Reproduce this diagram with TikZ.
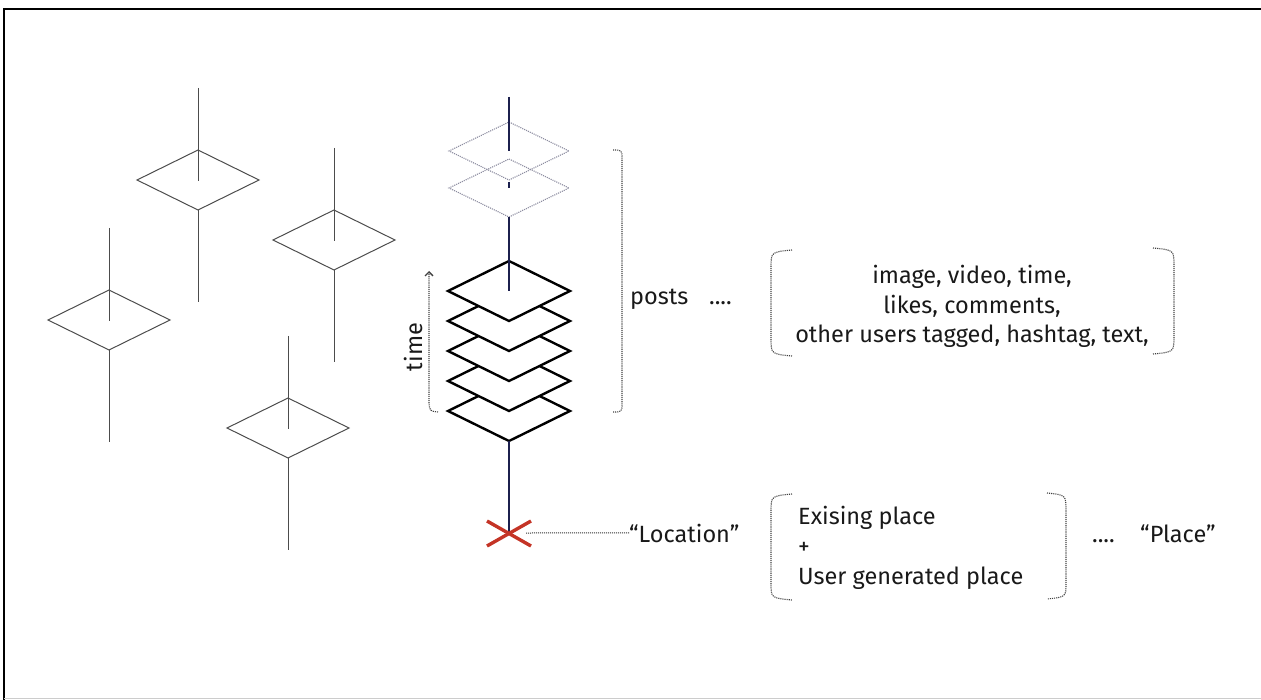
\documentclass[tikz,border=0pt]{standalone}
\usepackage{fontspec}
\setmainfont{Fira Sans}
\usetikzlibrary{arrows.meta}
\definecolor{navy}{RGB}{28,32,78}
\definecolor{xred}{RGB}{196,52,38}
\definecolor{dotgray}{RGB}{140,140,160}
\tikzset{
  gline/.style={draw=black!70, line width=1pt},
  sline/.style={draw=black, line width=2.4pt, fill=white, line join=miter},
  navyline/.style={draw=navy, line width=2.4pt},
  ghost/.style={draw=dotgray, line width=1.1pt, densely dotted},
  brk/.style={draw=black!75, line width=1.1pt, densely dotted},
  lbl/.style={inner sep=0pt, text=black!90, font=\fontsize{23.5}{29.5}\selectfont},
  gdia/.pic={
    \draw[gline] (0,-30)--(61,0)--(0,30)--(-61,0)--cycle;
    \draw[gline] (0,-92)--(0,1);
    \draw[gline] (0,30)--(0,122);
  }
}
\begin{document}
\begin{tikzpicture}[x=1pt,y=-1pt]
\useasboundingbox (0,0) rectangle (1261,700);
% frame
\draw[line width=2pt] (4,700) -- (4,9) -- (1261,9);
\draw[black!20, line width=1pt] (4,698) -- (1261,698);
% left scattered diamonds
\pic at (198,180) {gdia};
\pic at (334,240) {gdia};
\pic at (109,320) {gdia};
\pic at (288,428) {gdia};
% ghost diamonds
\draw[ghost] (509,122)--(569,151)--(509,180)--(449,151)--cycle;
\draw[ghost] (509,159)--(569,188)--(509,217)--(449,188)--cycle;
% solid stack, bottom first
\foreach \c in {411,381,351,321,291}{
  \draw[sline] (509,\c-30)--(570,\c)--(509,\c+30)--(448,\c)--cycle;
}
% navy stem
\coordinate (stemtop) at (509,97);
\coordinate (x) at (509,533);
\draw[navyline] (stemtop) -- (509,151);
\draw[navyline] (509,182) -- (509,188);
\draw[navyline] (509,217) -- (509,291);
\draw[navyline] (509,441) -- (x);
% red cross
\draw[xred, line width=3.4pt] (487,521) -- (531,546);
\draw[xred, line width=3.4pt] (487,546) -- (531,521);
% time arrow
\draw[brk, -{Straight Barb[length=4pt,width=8pt,line width=1.3pt]}] (438,412) .. controls (430,411) .. (429,404) -- (429,271);
\node[lbl, rotate=90] (time) at (413,347) {time};
% posts bracket
\draw[brk] (613,150) .. controls (622,150) .. (622,159) -- (622,403) .. controls (622,412) .. (613,412);
\node[lbl, anchor=base west] (posts) at (630,305) {posts};
\node[lbl, anchor=base west] (pdots) at (709,305) {....};
% attributes group
\draw[brk] (792,250) .. controls (771,252) .. (771,268) -- (771,338) .. controls (771,354) .. (792,356);
\draw[brk] (1153,248) .. controls (1174,250) .. (1174,266) -- (1174,336) .. controls (1174,352) .. (1153,354);
\node[lbl, anchor=base] (attr1) at (972,284) {image, video, time,};
\node[lbl, anchor=base] (attr2) at (972,314) {likes, comments,};
\node[lbl, anchor=base] (attr3) at (972,343) {other users tagged, hashtag, text,};
% location
\node[lbl, anchor=base west] (loc) at (629,542) {“Location”};
\draw[black!80, line width=1pt, densely dotted] (x) ++(17,0) -- (loc.west);
% place group
\draw[brk] (792,494) .. controls (771,496) .. (771,512) -- (771,583) .. controls (771,598) .. (792,600);
\draw[brk] (1047,493) .. controls (1066,495) .. (1066,511) -- (1066,583) .. controls (1066,597) .. (1047,599);
\node[lbl, anchor=base west] (pl1) at (798,524) {Exising place};
\node[lbl, anchor=base west] (pl2) at (798,554) {+};
\node[lbl, anchor=base west] (pl3) at (798,584) {User generated place};
\node[lbl, anchor=base west] (qdots) at (1092,542) {....};
\node[lbl, anchor=base west] (plc) at (1140,542) {“Place”};
\end{tikzpicture}
\end{document}
